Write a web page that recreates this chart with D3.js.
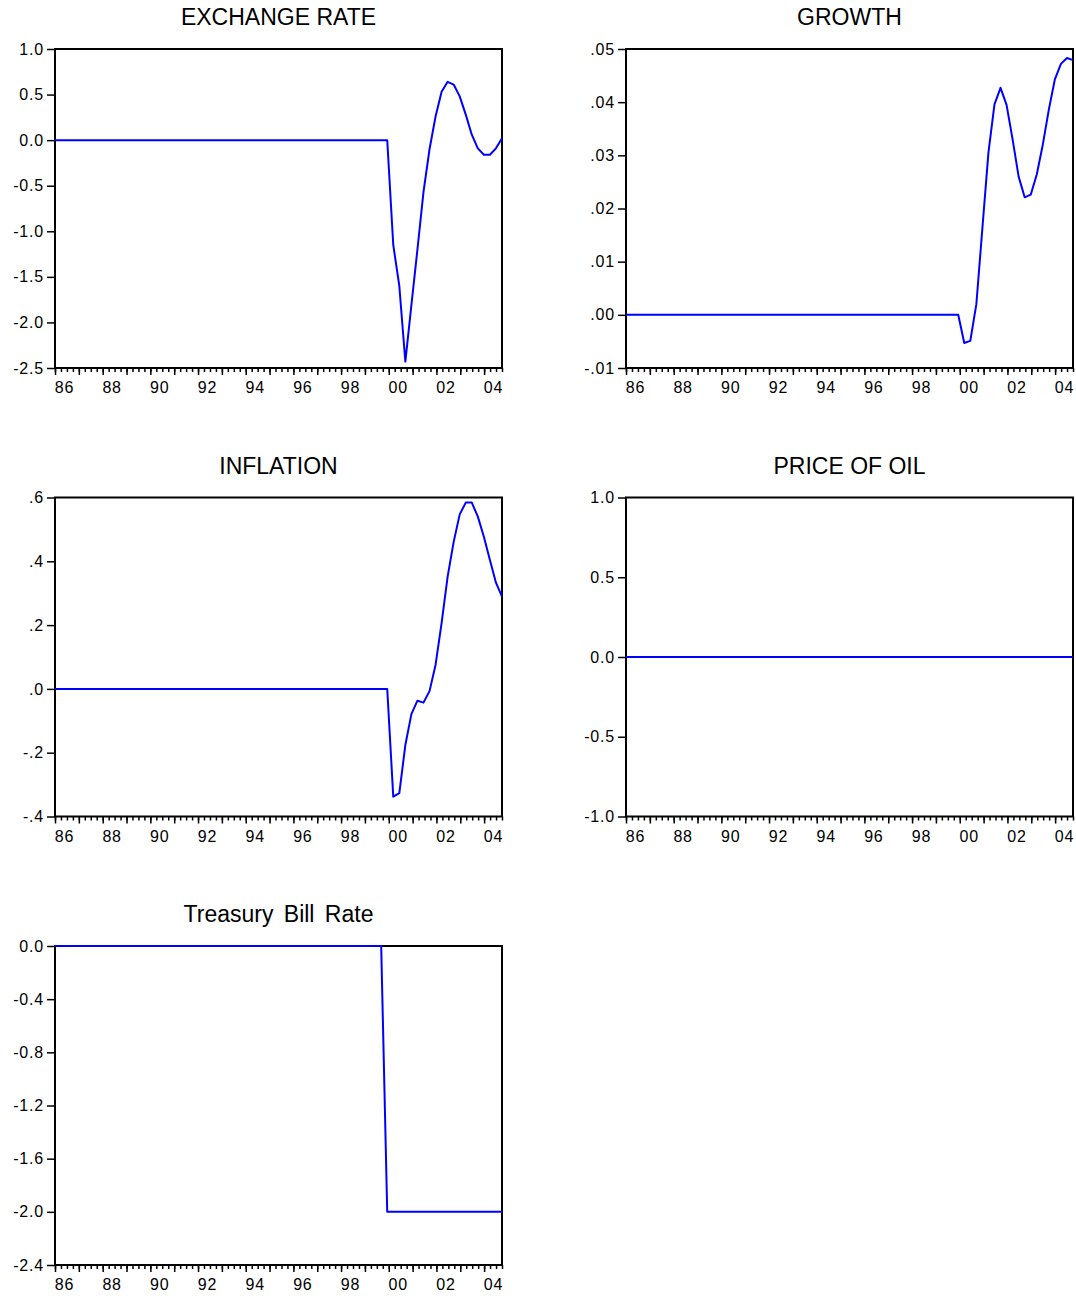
<!DOCTYPE html>
<html>
<head>
<meta charset="utf-8">
<title>Impulse responses</title>
<script src="https://cdn.jsdelivr.net/npm/d3@7"></script>
<style>
body { margin: 0; background: #fff; }
svg text { font-family: "Liberation Sans", Arial, sans-serif; fill: #000; }
.title { font-size: 23px; }
.title.wide { word-spacing: 4px; }
.axis text { font-size: 16px; letter-spacing: 0.8px; }
.axis path { display: none; }
.axis line { stroke: #000; stroke-width: 1.5px; }
.frame { fill: none; stroke: #000; stroke-width: 2px; }
.series { fill: none; stroke: #0000ff; stroke-width: 2px; stroke-linejoin: round; }
</style>
</head>
<body>
<svg width="1076" height="1296"></svg>
<script>
// quarterly sample 1986Q1 - 2004Q3 (75 obs)
var nObs = 75;
var years = [1986, 1988, 1990, 1992, 1994, 1996, 1998, 2000, 2002, 2004];
var yearLabels = ["86", "88", "90", "92", "94", "96", "98", "00", "02", "04"];

var exchangeRate = [
  0,0,0,0,0,0,0,0,0,0,0,0,0,0,
  0,0,0,0,0,0,0,0,0,0,0,0,0,0,
  0,0,0,0,0,0,0,0,0,0,0,0,0,0,
  0,0,0,0,0,0,0,0,0,0,0,0,0,0,
  -1.15,-1.60,-2.43,-1.81,-1.20,-0.57,-0.10,0.26,0.53,0.64,
  0.61,0.48,0.28,0.06,-0.09,-0.16,-0.16,-0.09,0.02];

var growth = [
  0,0,0,0,0,0,0,0,0,0,0,0,0,0,
  0,0,0,0,0,0,0,0,0,0,0,0,0,0,
  0,0,0,0,0,0,0,0,0,0,0,0,0,0,
  0,0,0,0,0,0,0,0,0,0,0,0,0,0,
  -0.0053,-0.0049,0.0020,0.0163,0.0305,0.0396,0.0427,0.0395,0.0330,0.0260,
  0.0221,0.0226,0.0264,0.0320,0.0386,0.0443,0.0472,0.0483,0.0479];

var inflation = [
  0,0,0,0,0,0,0,0,0,0,0,0,0,0,
  0,0,0,0,0,0,0,0,0,0,0,0,0,0,
  0,0,0,0,0,0,0,0,0,0,0,0,0,0,
  0,0,0,0,0,0,0,0,0,0,0,0,0,0,
  -0.338,-0.327,-0.176,-0.079,-0.037,-0.043,-0.007,0.075,0.206,0.352,
  0.461,0.547,0.584,0.584,0.540,0.477,0.404,0.333,0.289];

var priceOfOil = [
  0,0,0,0,0,0,0,0,0,0,0,0,0,0,0,
  0,0,0,0,0,0,0,0,0,0,0,0,0,0,0,
  0,0,0,0,0,0,0,0,0,0,0,0,0,0,0,
  0,0,0,0,0,0,0,0,0,0,0,0,0,0,0,
  0,0,0,0,0,0,0,0,0,0,0,0,0,0,0];

var tbillRate = [
  0,0,0,0,0,0,0,0,0,0,0,
  0,0,0,0,0,0,0,0,0,0,0,
  0,0,0,0,0,0,0,0,0,0,0,
  0,0,0,0,0,0,0,0,0,0,0,
  0,0,0,0,0,0,0,0,0,0,0,
  -2,-2,-2,-2,-2,-2,-2,-2,-2,-2,
  -2,-2,-2,-2,-2,-2,-2,-2,-2,-2];

var exTicks = [-2.5, -2.0, -1.5, -1.0, -0.5, 0.0, 0.5, 1.0];
var grTicks = [-0.01, 0.00, 0.01, 0.02, 0.03, 0.04, 0.05];
var infTicks = [-0.4, -0.2, 0.0, 0.2, 0.4, 0.6];
var oilTicks = [-1.0, -0.5, 0.0, 0.5, 1.0];
var tbTicks = [-2.4, -2.0, -1.6, -1.2, -0.8, -0.4, 0.0];

function dash(s) { return s.replace("\u2212", "-"); }
function noLead(s) { return dash(s).replace(/^(-?)0\./, "$1."); }

var panels = [
  {title: "EXCHANGE RATE", data: exchangeRate, domain: [-2.5, 1.0], ticks: exTicks,
   fmt: function(d) { return dash(d3.format(".1f")(d)); }, col: 0, row: 0},
  {title: "GROWTH", data: growth, domain: [-0.01, 0.05], ticks: grTicks,
   fmt: function(d) { return noLead(d3.format(".2f")(d)); }, col: 1, row: 0},
  {title: "INFLATION", data: inflation, domain: [-0.4, 0.6], ticks: infTicks,
   fmt: function(d) { return noLead(d3.format(".1f")(d)); }, col: 0, row: 1},
  {title: "PRICE OF OIL", data: priceOfOil, domain: [-1.0, 1.0], ticks: oilTicks,
   fmt: function(d) { return dash(d3.format(".1f")(d)); }, col: 1, row: 1},
  {title: "Treasury Bill Rate", data: tbillRate, domain: [-2.4, 0.0], ticks: tbTicks,
   fmt: function(d) { return dash(d3.format(".1f")(d)); }, col: 0, row: 2, wide: true}
];

var svg = d3.select("svg");
var plotW = 447, plotH = 319;
var lefts = [55, 626], tops = [49, 497.5, 946];

panels.forEach(function(p) {
  var g = svg.append("g")
      .attr("transform", "translate(" + lefts[p.col] + "," + tops[p.row] + ")");

  // data positions and the quarter slots used for the date axis
  var x = d3.scaleLinear().domain([0, nObs - 1]).range([0, plotW]);
  var slot = d3.scaleLinear().domain([0, nObs]).range([0, plotW]);
  var y = d3.scaleLinear().domain(p.domain).range([plotH, 0]);

  g.append("text")
      .attr("class", p.wide ? "title wide" : "title")
      .attr("x", plotW / 2)
      .attr("y", -24)
      .attr("text-anchor", "middle")
      .text(p.title);

  g.append("rect")
      .attr("class", "frame")
      .attr("width", plotW)
      .attr("height", plotH);

  g.append("g")
      .attr("class", "axis")
      .call(d3.axisLeft(y).tickValues(p.ticks).tickFormat(p.fmt).tickSize(8).tickPadding(3));

  // quarterly minor ticks
  g.append("g")
      .attr("class", "axis")
      .attr("transform", "translate(0," + plotH + ")")
      .call(d3.axisBottom(slot).tickValues(d3.range(0, nObs + 1)).tickSize(4).tickFormat(""));

  // yearly major ticks
  g.append("g")
      .attr("class", "axis")
      .attr("transform", "translate(0," + plotH + ")")
      .call(d3.axisBottom(slot).tickValues(d3.range(0, nObs, 4)).tickSize(7).tickFormat(""));

  // year labels, sitting just right of the year tick
  g.append("g")
      .attr("class", "axis")
      .attr("transform", "translate(0," + plotH + ")")
      .call(d3.axisBottom(slot)
        .tickValues(years.map(function(yr) { return (yr - 1986) * 4 + 1.5; }))
        .tickSize(0).tickPadding(14)
        .tickFormat(function(d, i) { return yearLabels[i]; }));

  var line = d3.line()
      .x(function(d, i) { return x(i); })
      .y(function(d) { return y(d); });

  g.append("path")
      .datum(p.data)
      .attr("class", "series")
      .attr("d", line);
});
</script>
</body>
</html>
